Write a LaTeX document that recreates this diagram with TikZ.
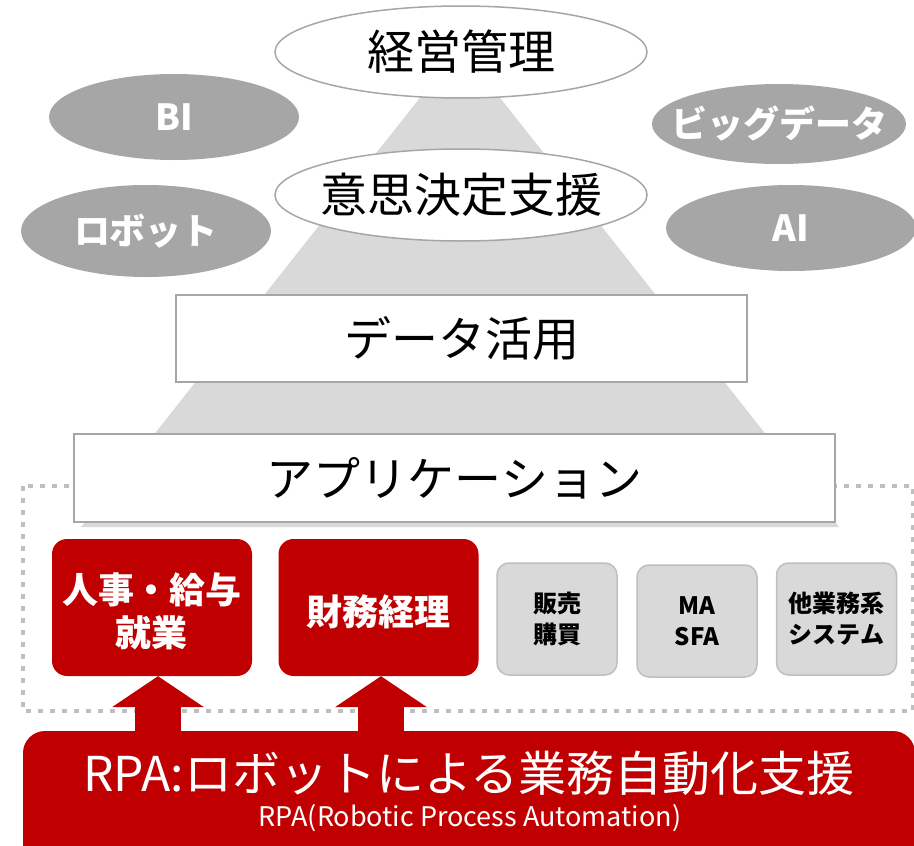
\documentclass[tikz,border=0pt]{standalone}
\usepackage{fontspec}
\setmainfont{Noto Sans CJK JP}
\usetikzlibrary{shapes.geometric,arrows.meta,calc}
\definecolor{rpared}{HTML}{C00000}
\definecolor{pyr}{HTML}{D9D9D9}
\definecolor{ellg}{HTML}{A6A6A6}
\definecolor{boxb}{HTML}{A6A6A6}
\definecolor{dotg}{HTML}{BFBFBF}
\begin{document}
\begin{tikzpicture}[x=1pt,y=-1pt,
  topell/.style={ellipse, draw=boxb, line width=1.5pt, fill=white, minimum width=372pt, minimum height=92pt, inner sep=0pt},
  toptext/.style={inner sep=0pt, font=\fontsize{47}{52}\selectfont},
  sideell/.style={ellipse, fill=ellg, inner sep=0pt},
  sidetext/.style={inner sep=0pt, text=white, font=\bfseries\fontsize{36}{40}\selectfont},
  lvlbox/.style={rectangle, draw=boxb, line width=1.5pt, fill=white, inner sep=0pt, font=\fontsize{47}{52}\selectfont},
  redbox/.style={rectangle, rounded corners=15pt, fill=rpared, inner sep=0pt, minimum width=200pt, minimum height=137pt},
  redtext/.style={text=white, inner sep=0pt, font=\bfseries\fontsize{36}{43}\selectfont, align=center},
  graybox/.style={rectangle, rounded corners=12pt, draw=dotg, line width=1.5pt, fill=pyr, minimum width=120pt, minimum height=112pt, inner sep=0pt, font=\bfseries\fontsize{24}{31}\selectfont, align=center},
  uparrow/.style={rpared, line width=46pt, -{Triangle[width=92pt,length=31pt,line width=0pt]}},
  bannertext/.style={text=white, inner sep=0pt}
]
\useasboundingbox (0,0) rectangle (914,846);
% pyramid
\fill[pyr] (460,47) -- (81,527) -- (839,527) -- cycle;
% dotted frame
\draw[dotg, line width=4pt, dash pattern=on 5pt off 7pt] (23,486) rectangle (913,711);
% ellipses
\node[topell] (mgmt) at (461,52) {};
\node[toptext] (mgmtt) at (mgmt.center) {経営管理};
\node[topell] (dss) at (461,195) {};
\node[toptext] (dsst) at (dss.center) {意思決定支援};
\node[sideell, minimum width=250pt, minimum height=86pt] (bi) at (174,117) {};
\node[sidetext] (bit) at (bi.center) {BI};
\node[sideell, minimum width=250pt, minimum height=92pt] (robot) at (146,231) {};
\node[sidetext] (robott) at (robot.center) {ロボット};
\node[sideell, minimum width=254pt, minimum height=80pt] (big) at (779,124) {};
\node[sidetext] (bigt) at (big.center) {ビッグデータ};
\node[sideell, minimum width=250pt, minimum height=86pt] (ai) at (791,228) {};
\node[sidetext] (ait) at (ai.center) {AI};
% levels
\node[lvlbox, minimum width=571pt, minimum height=87pt] (data) at (461.5,338.5) {データ活用};
\node[lvlbox, minimum width=761pt, minimum height=88pt] (app) at (454.5,478) {アプリケーション};
% application boxes
\node[redbox] (hr) at (152,607.5) {};
\node[redtext] (hrt) at ($(hr.center)+(0,4)$) {人事・給与\\就業};
\node[redbox] (fin) at (378.5,607.5) {};
\node[redtext] (fint) at ($(fin.center)+(0,4)$) {財務経理};
\node[graybox] (sales) at (557,619) {販売\\購買};
\node[graybox] (ma) at (697,621) {MA\\SFA};
\node[graybox] (other) at (836.5,619) {他業務系\\システム};
% banner
\node[rectangle, rounded corners=22pt, fill=rpared, minimum width=892pt, minimum height=150pt, inner sep=0pt] (banner) at (469,806) {};
\node[bannertext, font=\fontsize{48}{52}\selectfont] (rpa) at (469,773) {RPA:ロボットによる業務自動化支援};
\node[bannertext, font=\fontsize{27}{30}\selectfont] (rpasub) at (470,818) {RPA(Robotic Process Automation)};
% arrows
\coordinate (a1) at (158,740);
\coordinate (a2) at (381,740);
\draw[uparrow] (a1) -- (a1 |- hr.south);
\draw[uparrow] (a2) -- (a2 |- fin.south);
\end{tikzpicture}
\end{document}
